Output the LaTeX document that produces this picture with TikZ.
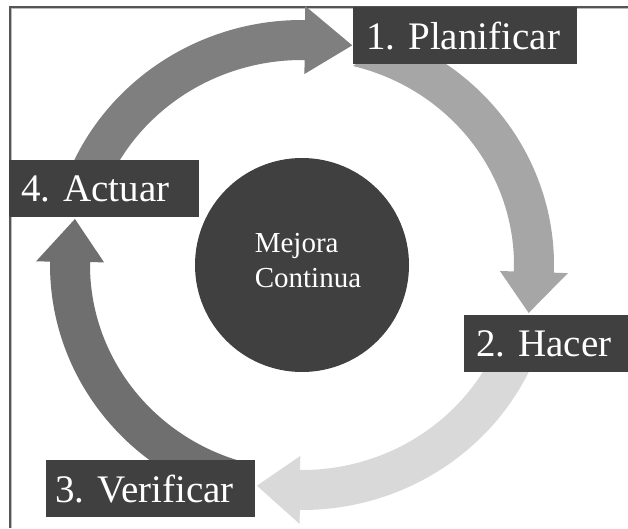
\documentclass[tikz,border=0pt]{standalone}
\usepackage{fontspec}
\setmainfont{Liberation Serif}
\frenchspacing

\definecolor{boxgray}{HTML}{404040}
\definecolor{cycA}{HTML}{7F7F7F}   % 4 -> 1
\definecolor{cycB}{HTML}{A6A6A6}   % 1 -> 2
\definecolor{cycC}{HTML}{D9D9D9}   % 2 -> 3
\definecolor{cycD}{HTML}{6F6F6F}   % 3 -> 4
\definecolor{framegray}{HTML}{555555}
\definecolor{framelight}{HTML}{BDBDBD}

% Thick curved arrow on the ring around (302,263):
% #1 colour, #2 start angle of outer edge, #3 start angle of inner edge,
% #4 angle of the head base, #5 angle of the tip
\newcommand{\cycarrow}[5]{%
  \fill[#1] ({302+252*cos(#2)},{263+245*sin(#2)})
    arc[start angle=#2, end angle=#4, x radius=252, y radius=245]
    -- ({302+266*cos(#4)},{263+259*sin(#4)})
    -- ({302+232*cos(#5)},{263+225*sin(#5)})
    -- ({302+198*cos(#4)},{263+191*sin(#4)})
    -- ({302+212*cos(#4)},{263+205*sin(#4)})
    arc[start angle=#4, end angle=#3, x radius=212, y radius=205]
    -- cycle;}

\tikzset{
  stagebox/.style={fill=boxgray, text=white, anchor=north west,
    minimum height=57pt, inner xsep=0pt, inner ysep=0pt, align=left,
    font=\fontsize{39}{44}\selectfont},
}

\begin{document}
\begin{tikzpicture}[x=1pt, y=1pt]
  \useasboundingbox (0,0) rectangle (628,528);
  \fill[white] (0,0) rectangle (628,528);

  % frame along the top and left edges
  \draw[framelight, line width=1pt] (11.5,0) -- (11.5,519.5) -- (628,519.5);
  \draw[framegray, line width=2pt] (10,0) -- (10,521) -- (628,521);

  % cycle arrows
  \cycarrow{cycB}{70}{76}{-1.8}{-12.3}
  \cycarrow{cycC}{-22}{-22}{-90.5}{-101.2}
  \cycarrow{cycD}{-107}{-107}{-180.8}{-191.8}
  \cycarrow{cycA}{160}{160}{89.3}{77.5}

  % stage labels
  \node[stagebox, text width=224pt] (plan)   at (353,521) {\hspace*{13pt}1. Planificar};
  \node[stagebox, text width=164pt] (hacer)  at (464,213) {\hspace*{12pt}2. Hacer};
  \node[stagebox, text width=209pt] (verif)  at (46,68)   {\hspace*{9pt}3. Verificar};
  \node[stagebox, text width=190pt] (actuar) at (9,368)   {\hspace*{12pt}4. Actuar};

  % centre
  \node[circle, fill=boxgray, minimum size=214pt, inner sep=0pt] (core) at (302,263) {};
  \node[text=white, align=left, font=\fontsize{29}{35}\selectfont] (coretext)
    at (308,267.5) {Mejora\\Continua};
\end{tikzpicture}
\end{document}
